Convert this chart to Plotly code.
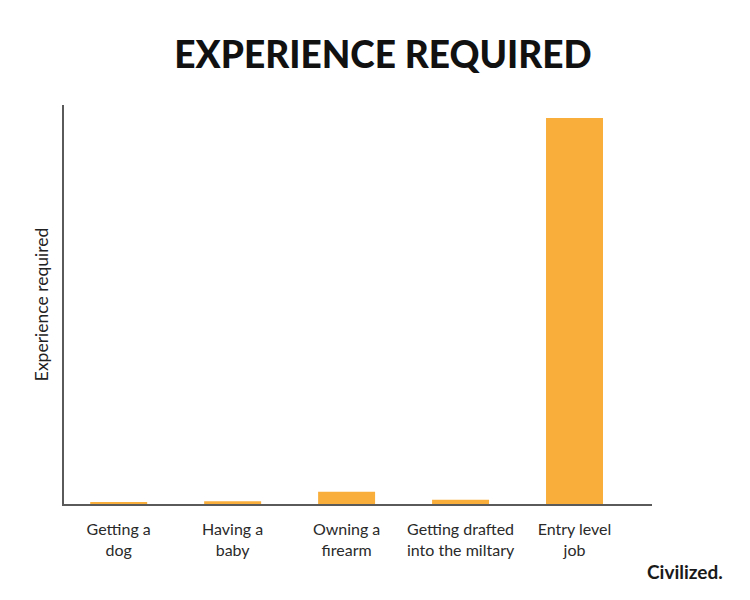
import plotly.graph_objects as go

categories = ["Getting a<br>dog", "Having a<br>baby", "Owning a<br>firearm",
              "Getting drafted<br>into the miltary", "Entry level<br>job"]
experience = [0.5, 0.7, 3.2, 1.1, 100]

fig = go.Figure()

fig.add_trace(go.Bar(x=categories, y=experience, marker_color="#F9AE3B",
                     marker_line_width=0, width=0.5))

fig.update_xaxes(range=[-0.48, 4.68], showline=True, linecolor="#5a5a5a", linewidth=1.5,
                 ticks="", showgrid=False, ticklabelstandoff=10,
                 tickfont=dict(size=16, color="#2a2a2a"))

fig.update_yaxes(range=[0, 103.4], showline=True, linecolor="#5a5a5a", linewidth=1.5,
                 showticklabels=False, ticks="", showgrid=False, zeroline=False,
                 title=dict(text="Experience required", font=dict(size=17.5, color="#222222"),
                            standoff=9))

fig.add_annotation(text="Civilized.", xref="paper", yref="paper", x=1.124, y=-0.17,
                   xanchor="right", yanchor="middle", showarrow=False,
                   font=dict(size=19, color="#1a1a1a", family="Lato", weight=700))

fig.update_layout(
    title=dict(text="EXPERIENCE REQUIRED", x=0.5, xanchor="center", y=0.922, yanchor="middle",
               font=dict(size=37, color="#111111", family="Lato", weight=900)),
    font=dict(family="Lato"),
    plot_bgcolor="white", paper_bgcolor="white",
    width=750, height=600, showlegend=False,
    margin=dict(l=56, r=106, t=97, b=104),
    bargap=0.5,
)

fig.write_html("out.html")
